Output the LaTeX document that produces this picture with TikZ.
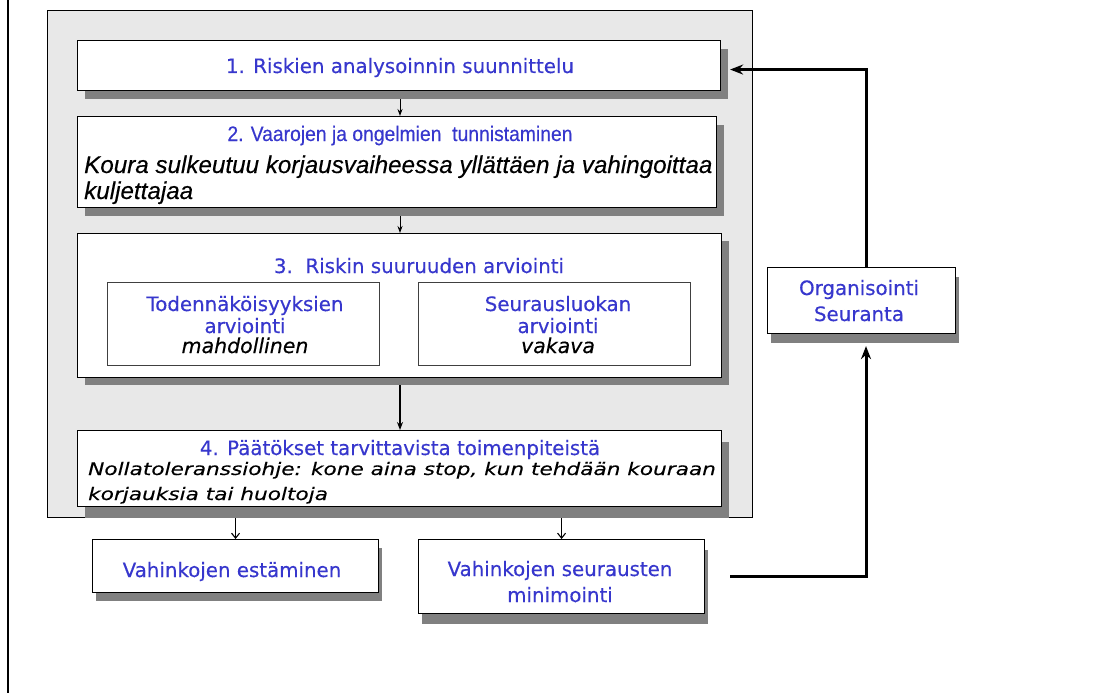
\documentclass[tikz,border=0pt]{standalone}
\usepackage{fontspec}
\setmainfont{DejaVu Sans}[FakeBold=0.35]
\newfontfamily\arialf{Liberation Sans}[FakeBold=0.3]
\newfontfamily\narrowf{Liberation Sans}[FakeStretch=0.92,FakeBold=0.35]
\newfontfamily\widef{DejaVu Sans}[FakeStretch=1.25,FakeBold=0.3]
\usetikzlibrary{shadows,arrows.meta}
\definecolor{txtblue}{RGB}{55,55,205}
\definecolor{panelgray}{RGB}{232,232,232}
\definecolor{shadowgray}{RGB}{128,128,128}
\begin{document}
\begin{tikzpicture}[x=1pt,y=-1pt,
  box/.style={draw=black, line width=1.1pt, fill=white, inner sep=0pt, anchor=north west},
  subbox/.style={draw=black!75, line width=0.9pt, fill=white, inner sep=0pt, anchor=north west},
  shad/.style 2 args={drop shadow={shadow xshift=#1pt, shadow yshift=-#2pt, fill=shadowgray, opacity=1}},
  tx/.style={inner sep=0pt, text=txtblue, anchor=base, font=\fontsize{19.8pt}{22pt}\selectfont},
  itx/.style={inner sep=0pt, text=black, anchor=base},
  sarrow/.style={line width=0.9pt, -{Stealth[length=7pt,width=5pt]}},
  barb/.style={line width=1.1pt, -{Straight Barb[length=5pt,width=8pt]}},
  bigarrow/.style={line width=3pt, -{Stealth[length=13pt,width=10pt]}}]
\useasboundingbox (0,0) rectangle (1094,693);
\draw[line width=2.5pt] (8,0) -- (8,693);
\node[draw=black, line width=1pt, fill=panelgray, inner sep=0pt, anchor=north west,
      minimum width=705pt, minimum height=507pt] (panel) at (47,10) {};
\coordinate (ax) at (400,0);
\coordinate (rx) at (866,0);
% boxes
\node[box, shad={7}{8}, minimum width=643pt, minimum height=50pt] (b1) at (77,40) {};
\node[box, shad={7}{8}, minimum width=639pt, minimum height=91pt] (b2) at (77,116) {};
\node[box, shad={7}{7}, minimum width=644pt, minimum height=144pt] (b3) at (77,233) {};
\node[subbox, minimum width=272pt, minimum height=83pt] (s1) at (107,282) {};
\node[subbox, minimum width=272pt, minimum height=83pt] (s2) at (418,282) {};
\node[box, shad={7}{11}, minimum width=644pt, minimum height=76pt] (b4) at (77,430) {};
\node[box, shad={3}{8}, minimum width=286pt, minimum height=53pt] (v1) at (92,539) {};
\node[box, shad={3}{10}, minimum width=286pt, minimum height=74pt] (v2) at (418,539) {};
\node[box, shad={3}{9}, minimum width=188pt, minimum height=66pt] (org) at (767,267) {};
% texts
\node[tx] (t1) at (400,73) {1. Riskien analysoinnin suunnittelu};
\node[tx, font=\narrowf\fontsize{21pt}{24pt}\selectfont] (t2) at (400,141) {2. Vaarojen ja ongelmien\ \ tunnistaminen};
\node[itx, anchor=base west, font=\arialf\itshape\fontsize{24.2pt}{27pt}\selectfont] (t2a) at (84,173) {Koura sulkeutuu korjausvaiheessa yllättäen ja vahingoittaa};
\node[itx, anchor=base west, font=\arialf\itshape\fontsize{24.2pt}{27pt}\selectfont] (t2b) at (84,199) {kuljettajaa};
\node[tx] (t3) at (419,273) {3.\ \ Riskin suuruuden arviointi};
\node[tx] (s1a) at (245,311) {Todennäköisyyksien};
\node[tx] (s1b) at (245,333) {arviointi};
\node[itx, font=\itshape\fontsize{20.5pt}{22pt}\selectfont] (s1c) at (245,353) {mahdollinen};
\node[tx] (s2a) at (558,311) {Seurausluokan};
\node[tx] (s2b) at (558,333) {arviointi};
\node[itx, font=\itshape\fontsize{20.5pt}{22pt}\selectfont] (s2c) at (558,353) {vakava};
\node[tx] (t4) at (400,455) {4. Päätökset tarvittavista toimenpiteistä};
\node[itx, anchor=base west, font=\widef\itshape\fontsize{17.3pt}{20pt}\selectfont] (t4a) at (88,475) {Nollatoleranssiohje: kone aina stop, kun tehdään kouraan};
\node[itx, anchor=base west, font=\widef\itshape\fontsize{17.3pt}{20pt}\selectfont] (t4b) at (88,500) {korjauksia tai huoltoja};
\node[tx] (v1t) at (232,577) {Vahinkojen estäminen};
\node[tx] (v2a) at (560,576) {Vahinkojen seurausten};
\node[tx] (v2b) at (560,602) {minimointi};
\node[tx] (oa) at (859,295) {Organisointi};
\node[tx] (ob) at (859,321) {Seuranta};
% connectors
\draw[sarrow] ([yshift=-8pt]b1.south -| ax) -- (b2.north -| ax);
\draw[sarrow] ([yshift=-8pt]b2.south -| ax) -- (b3.north -| ax);
\draw[line width=1.6pt, -{Stealth[length=8pt,width=6pt]}] ([yshift=-7pt]b3.south -| ax) -- (b4.north -| ax);
\draw[barb] ([yshift=-11pt]b4.south -| v1.north) -- (v1.north);
\draw[barb] ([yshift=-11pt]b4.south -| v2.north) -- (v2.north);
\draw[bigarrow] ([xshift=25pt]v2.east) -| ([yshift=-12pt]org.south -| rx);
\draw[bigarrow] (org.north -| rx) |- ([xshift=9pt,yshift=-4pt]b1.east);
\end{tikzpicture}
\end{document}
